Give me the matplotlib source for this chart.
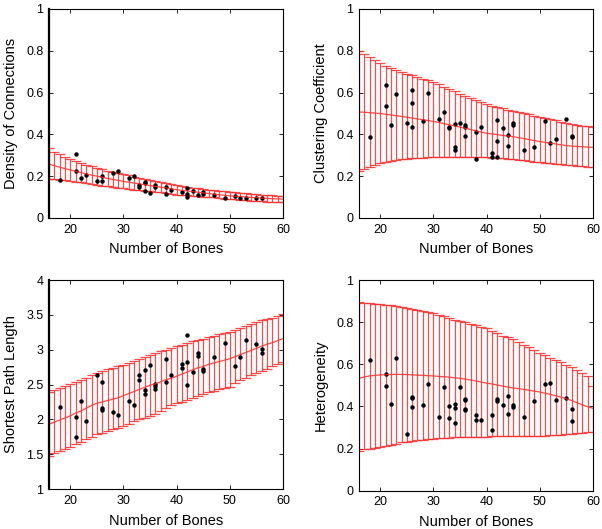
import numpy as np
from matplotlib import pyplot as plt
from matplotlib.ticker import FuncFormatter

plt.rcParams['font.family'] = ['Liberation Sans', 'DejaVu Sans']

# simulated bone counts (one error bar per count)
n_sim = np.arange(16, 61)

dens_mean = [.258, .250, .243, .236, .230, .223, .217, .211, .205, .200,
             .195, .189, .184, .180, .175, .171, .167, .163, .159, .155,
             .151, .147, .144, .139, .135, .132, .129, .126, .123, .120,
             .117, .114, .111, .108, .106, .104, .102, .100, .098, .097,
             .095, .094, .092, .091, .090]
dens_hi = [.335, .318, .305, .292, .283, .272, .263, .255, .247, .240,
           .233, .226, .220, .215, .210, .204, .198, .192, .186, .181,
           .176, .171, .167, .161, .156, .152, .148, .145, .141, .138,
           .135, .132, .130, .128, .126, .123, .120, .118, .116, .114,
           .112, .110, .108, .107, .105]
dens_lo = [.187, .185, .183, .180, .177, .174, .170, .167, .163, .159,
           .155, .152, .148, .145, .141, .138, .136, .133, .130, .128,
           .125, .122, .119, .115, .112, .110, .108, .106, .104, .102,
           .100, .098, .096, .093, .091, .089, .087, .085, .083, .081,
           .080, .078, .077, .075, .074]

clus_mean = [.507, .506, .504, .502, .500, .496, .493, .489, .486, .482,
             .478, .474, .470, .466, .462, .457, .451, .446, .440, .435,
             .429, .423, .417, .411, .405, .402, .399, .395, .392, .389,
             .384, .380, .375, .370, .366, .362, .358, .354, .350, .346,
             .344, .342, .341, .339, .338]
clus_hi = [.800, .785, .772, .756, .740, .728, .717, .707, .698, .690,
           .682, .674, .666, .658, .650, .639, .628, .617, .606, .595,
           .585, .575, .565, .555, .545, .538, .532, .525, .519, .513,
           .507, .502, .496, .490, .485, .479, .473, .467, .461, .456,
           .451, .447, .442, .438, .433]
clus_lo = [.225, .235, .243, .253, .262, .267, .272, .276, .280, .283,
           .285, .287, .289, .291, .292, .292, .292, .292, .292, .292,
           .292, .291, .291, .290, .290, .288, .287, .285, .283, .281,
           .278, .275, .272, .269, .266, .264, .261, .259, .256, .254,
           .252, .250, .248, .245, .243]

path_mean = [1.93, 1.96, 1.99, 2.02, 2.05, 2.09, 2.12, 2.16, 2.20, 2.23,
             2.25, 2.27, 2.29, 2.31, 2.34, 2.37, 2.40, 2.43, 2.46, 2.49,
             2.51, 2.54, 2.57, 2.59, 2.62, 2.65, 2.68, 2.71, 2.74, 2.76,
             2.79, 2.81, 2.83, 2.85, 2.87, 2.90, 2.93, 2.96, 2.99, 3.02,
             3.05, 3.08, 3.10, 3.13, 3.16]
path_hi = [2.39, 2.42, 2.45, 2.48, 2.51, 2.54, 2.57, 2.60, 2.64, 2.67,
           2.69, 2.72, 2.74, 2.76, 2.78, 2.81, 2.84, 2.87, 2.90, 2.93,
           2.95, 2.98, 3.00, 3.03, 3.05, 3.07, 3.10, 3.12, 3.14, 3.16,
           3.18, 3.20, 3.22, 3.24, 3.25, 3.28, 3.31, 3.34, 3.37, 3.40,
           3.42, 3.44, 3.46, 3.48, 3.51]
path_lo = [1.48, 1.52, 1.54, 1.57, 1.61, 1.64, 1.68, 1.72, 1.75, 1.79,
           1.81, 1.84, 1.86, 1.88, 1.90, 1.94, 1.97, 2.00, 2.02, 2.05,
           2.08, 2.12, 2.16, 2.20, 2.23, 2.25, 2.28, 2.31, 2.34, 2.36,
           2.39, 2.41, 2.43, 2.45, 2.47, 2.52, 2.56, 2.60, 2.64, 2.67,
           2.70, 2.73, 2.76, 2.79, 2.83]

het_mean = [.534, .540, .545, .548, .550, .551, .552, .553, .552, .552,
            .550, .549, .548, .546, .545, .543, .541, .539, .536, .534,
            .530, .526, .521, .516, .511, .507, .502, .497, .492, .488,
            .485, .481, .477, .473, .469, .463, .457, .451, .444, .437,
            .428, .418, .408, .399, .391]
het_hi = [.897, .893, .890, .888, .887, .884, .880, .876, .872, .867,
          .863, .858, .853, .848, .843, .836, .828, .820, .812, .806,
          .800, .792, .786, .779, .772, .760, .748, .737, .728, .719,
          .706, .693, .681, .669, .656, .643, .631, .620, .609, .598,
          .586, .574, .560, .545, .495]
het_lo = [.190, .196, .200, .205, .209, .214, .219, .224, .229, .233,
          .237, .240, .242, .244, .246, .248, .250, .251, .253, .254,
          .255, .256, .256, .257, .257, .258, .258, .259, .260, .261,
          .261, .261, .261, .261, .261, .262, .263, .265, .266, .268,
          .270, .272, .275, .278, .281]

# observed specimens
dens_x = [18, 21, 21, 22, 23, 25, 26, 26, 28, 29, 31, 32, 33, 33, 34, 34, 34,
          35, 36, 36, 38, 38, 39, 41, 42, 42, 42, 43, 44, 45, 45, 47, 49, 51,
          52, 53, 55, 56]
dens_y = [.181, .307, .227, .189, .207, .176, .203, .176, .215, .224, .189,
          .203, .156, .146, .173, .169, .130, .119, .159, .148, .148, .114,
          .135, .122, .143, .114, .100, .127, .108, .122, .114, .110, .097,
          .107, .097, .094, .094, .097]

clus_x = [18, 21, 21, 22, 23, 25, 26, 26, 26, 28, 29, 31, 32, 33, 33, 34, 34,
          34, 35, 36, 36, 36, 38, 38, 39, 41, 41, 42, 42, 42, 43, 44, 44, 45,
          45, 47, 49, 51, 52, 53, 55, 56, 56]
clus_y = [.386, .636, .536, .444, .593, .456, .612, .548, .436, .466, .599,
          .474, .507, .434, .431, .450, .340, .326, .456, .444, .437, .390,
          .413, .280, .436, .310, .294, .469, .367, .294, .431, .397, .342,
          .456, .444, .323, .340, .464, .359, .380, .474, .393, .386]

path_x = [18, 21, 21, 22, 23, 25, 26, 26, 26, 28, 29, 31, 32, 33, 33, 34, 34,
          34, 35, 36, 36, 36, 38, 38, 39, 41, 41, 42, 42, 42, 43, 44, 44, 45,
          45, 47, 49, 51, 52, 53, 55, 56, 56]
path_y = [2.18, 2.04, 1.75, 2.27, 1.97, 2.63, 2.53, 2.16, 2.14, 2.11, 2.06,
          2.27, 2.20, 2.64, 2.57, 2.71, 2.42, 2.36, 2.78, 2.51, 2.48, 2.43,
          2.87, 2.54, 2.64, 2.80, 2.74, 3.21, 2.82, 2.49, 2.68, 2.95, 2.91,
          2.72, 2.70, 2.90, 3.09, 2.76, 2.89, 3.14, 3.08, 3.01, 2.95]

het_x = [18, 21, 21, 22, 23, 25, 26, 26, 26, 28, 29, 31, 32, 33, 33, 34, 34,
         34, 35, 36, 36, 36, 36, 38, 38, 39, 41, 41, 42, 42, 43, 44, 44, 45,
         45, 47, 49, 51, 52, 53, 55, 56, 56]
het_y = [.621, .552, .499, .412, .632, .269, .445, .439, .396, .407, .509,
         .349, .493, .401, .345, .414, .391, .322, .493, .436, .429, .388,
         .382, .358, .334, .338, .358, .288, .436, .426, .409, .452, .363,
         .407, .399, .350, .426, .506, .510, .433, .439, .388, .331]

red = '#ff2a2a'


def panel(ax, mean, lo, hi, px, py, ylim, ystep, ylabel):
    mean = np.asarray(mean)
    err = [mean - np.asarray(lo), np.asarray(hi) - mean]
    ax.errorbar(n_sim, mean, yerr=err, color=red, lw=0.9, elinewidth=0.9,
                capsize=3.4, capthick=0.9, alpha=0.85)
    ax.plot(px, py, 'o', color='black', ms=3.2, mew=0)
    ax.set_xlim(16, 60)
    ax.set_ylim(*ylim)
    ax.set_xticks([20, 30, 40, 50, 60])
    ax.set_yticks(np.arange(ylim[0], ylim[1] + 1e-9, ystep))
    ax.yaxis.set_major_formatter(FuncFormatter(lambda v, p: '%g' % round(v, 2)))
    ax.tick_params(direction='in', length=3, width=0.6, labelsize=9,
                   top=True, right=True, pad=4)
    for s in ax.spines.values():
        s.set_linewidth(0.8)
    ax.set_xlabel('Number of Bones', fontsize=10.5, labelpad=5)
    ax.set_ylabel(ylabel, fontsize=10.5, labelpad=6)


fig = plt.figure(figsize=(6.02, 5.29), dpi=100)
ax1 = fig.add_axes([0.0814, 0.588, 0.3887, 0.395])
ax2 = fig.add_axes([0.5963, 0.588, 0.3887, 0.395])
ax3 = fig.add_axes([0.0814, 0.0756, 0.3887, 0.395])
ax4 = fig.add_axes([0.5963, 0.0724, 0.3887, 0.398])

panel(ax1, dens_mean, dens_lo, dens_hi, dens_x, dens_y, (0, 1), 0.2,
      'Density of Connections')
panel(ax2, clus_mean, clus_lo, clus_hi, clus_x, clus_y, (0, 1), 0.2,
      'Clustering Coefficient')
panel(ax3, path_mean, path_lo, path_hi, path_x, path_y, (1, 4), 0.5,
      'Shortest Path Length')
panel(ax4, het_mean, het_lo, het_hi, het_x, het_y, (0, 1), 0.2,
      'Heterogeneity')

ax1.spines['left'].set_linewidth(1.6)
ax3.spines['left'].set_linewidth(1.6)

fig.savefig('out.png', dpi=100)
